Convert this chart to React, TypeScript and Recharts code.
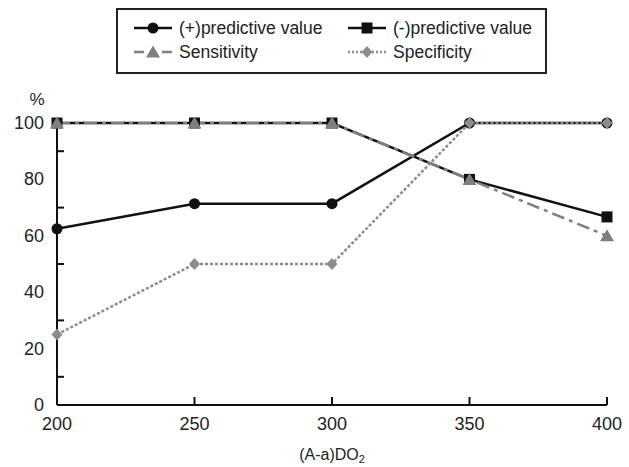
import React from "react";
import { LineChart, Line, XAxis, YAxis } from "recharts";

const xValues = [200, 250, 300, 350, 400];
const posPredictive = [62.5, 71.4, 71.4, 100, 100];
const negPredictive = [100, 100, 100, 80, 66.7];
const sensitivity = [100, 100, 100, 80, 60];
const specificity = [25, 50, 50, 100, 100];
const xTicks = [200, 250, 300, 350, 400];
const yTicks = [0, 10, 20, 30, 40, 50, 60, 70, 80, 90, 100];

const data = xValues.map((x, i) => ({
  x,
  pos: posPredictive[i],
  neg: negPredictive[i],
  sens: sensitivity[i],
  spec: specificity[i],
}));

const FONT = '"Liberation Sans", Arial, sans-serif';
const BLACK = "#111111";
const GRAY1 = "#7f7f7f";
const GRAY2 = "#8c8c8c";

const CircleDot = ({ cx, cy }: any) => <circle cx={cx} cy={cy} r={5.5} fill={BLACK} />;
const SquareDot = ({ cx, cy }: any) => <rect x={cx - 5.5} y={cy - 5.5} width={11} height={11} fill={BLACK} />;
const TriDot = ({ cx, cy, color }: any) => (
  <polygon points={`${cx},${cy - 6.5} ${cx + 7},${cy + 5.5} ${cx - 7},${cy + 5.5}`} fill={color || GRAY1} />
);
const DiamondDot = ({ cx, cy }: any) => (
  <polygon points={`${cx},${cy - 6} ${cx + 5.5},${cy} ${cx},${cy + 6} ${cx - 5.5},${cy}`} fill={GRAY2} />
);

const YTick = (props: any) => {
  const { x, y, payload } = props;
  const v = payload.value;
  if (v % 20 === 0) {
    return (
      <text x={x - 13} y={y} textAnchor="end" dominantBaseline="central" fontSize={18} fontFamily={FONT} fill="#222">
        {v}
      </text>
    );
  }
  return <line x1={x} x2={x + 7} y1={y} y2={y} stroke={BLACK} strokeWidth={2} />;
};

const XTick = (props: any) => {
  const { x, y, payload, index } = props;
  return (
    <g>
      {index > 0 && <line x1={x} x2={x} y1={y} y2={y - 8} stroke={BLACK} strokeWidth={2} />}
      <text x={x} y={y + 19} textAnchor="middle" dominantBaseline="central" fontSize={18} fontFamily={FONT} fill="#222">
        {payload.value}
      </text>
    </g>
  );
};

const XTitle = (props: any) => {
  const vb = props.viewBox;
  return (
    <text x={vb.x + vb.width / 2} y={vb.y + 49} textAnchor="middle" dominantBaseline="central" fontSize={16} fontFamily={FONT} fill="#222">
      (A-a)DO
      <tspan fontSize={11} dy={5}>2</tspan>
    </text>
  );
};

const YTitle = (props: any) => {
  const vb = props.viewBox;
  return (
    <text x={vb.x + vb.width - 20} y={vb.y - 24} textAnchor="middle" dominantBaseline="central" fontSize={17} fontFamily={FONT} fill="#222">
      %
    </text>
  );
};

const legendItems = [
  { label: "(+)predictive value", col: 0, row: 0, kind: "pos" },
  { label: "(-)predictive value", col: 1, row: 0, kind: "neg" },
  { label: "Sensitivity", col: 0, row: 1, kind: "sens" },
  { label: "Specificity", col: 1, row: 1, kind: "spec" },
];

const LegendBox = () => {
  const colX = [18, 232];
  const rowY = [20, 44];
  return (
    <svg width={431} height={66} style={{ position: "absolute", left: 116, top: 8 }}>
      <rect x={1} y={1} width={429} height={64} fill="#fff" stroke="#222" strokeWidth={2} />
      {legendItems.map((it) => {
        const x0 = colX[it.col];
        const y = rowY[it.row];
        const cx = x0 + 19;
        let sym: any = null;
        if (it.kind === "pos")
          sym = (
            <g>
              <line x1={x0} x2={x0 + 38} y1={y} y2={y} stroke={BLACK} strokeWidth={2.5} />
              <CircleDot cx={cx} cy={y} />
            </g>
          );
        if (it.kind === "neg")
          sym = (
            <g>
              <line x1={x0} x2={x0 + 38} y1={y} y2={y} stroke={BLACK} strokeWidth={2.5} />
              <SquareDot cx={cx} cy={y} />
            </g>
          );
        if (it.kind === "sens")
          sym = (
            <g>
              <line x1={x0} x2={x0 + 38} y1={y} y2={y} stroke={GRAY1} strokeWidth={2.5} strokeDasharray="10 18 10" />
              <TriDot cx={cx} cy={y} />
            </g>
          );
        if (it.kind === "spec")
          sym = (
            <g>
              <line x1={x0} x2={x0 + 38} y1={y} y2={y} stroke={GRAY2} strokeWidth={2.5} strokeDasharray="2 2" />
              <DiamondDot cx={cx} cy={y} />
            </g>
          );
        return (
          <g key={it.label}>
            {sym}
            <text x={x0 + 45} y={y} dominantBaseline="central" fontSize={17.5} fontFamily={FONT} fill="#222">
              {it.label}
            </text>
          </g>
        );
      })}
    </svg>
  );
};

export default function App() {
  return (
    <div style={{ position: "absolute", left: 0, top: 0, width: 629, height: 467, background: "#fff" }}>
      <LineChart width={629} height={467} data={data} margin={{ top: 123, right: 22, bottom: 0, left: 0 }}>
        <XAxis
          dataKey="x"
          type="number"
          domain={[200, 400]}
          ticks={xTicks}
          tick={<XTick />}
          tickLine={false}
          tickSize={0}
          tickMargin={0}
          height={62}
          axisLine={{ stroke: BLACK, strokeWidth: 2 }}
          label={<XTitle />}
        />
        <YAxis
          type="number"
          domain={[0, 100]}
          ticks={yTicks}
          interval={0}
          tick={<YTick />}
          tickLine={false}
          tickSize={0}
          tickMargin={0}
          width={57}
          axisLine={{ stroke: BLACK, strokeWidth: 2 }}
          label={<YTitle />}
        />
        <Line dataKey="pos" stroke={BLACK} strokeWidth={2.5} isAnimationActive={false}
          dot={(p: any) => <CircleDot key={`p${p.index}`} cx={p.cx} cy={p.cy} />} />
        <Line dataKey="neg" stroke={BLACK} strokeWidth={2.5} isAnimationActive={false}
          dot={(p: any) => <SquareDot key={`n${p.index}`} cx={p.cx} cy={p.cy} />} />
        <Line dataKey="sens" stroke={GRAY1} strokeWidth={2.5} strokeDasharray="13 5 4 5" isAnimationActive={false}
          dot={(p: any) => <TriDot key={`s${p.index}`} cx={p.cx} cy={p.cy} />} />
        <Line dataKey="spec" stroke={GRAY2} strokeWidth={2.5} strokeDasharray="3 2" isAnimationActive={false}
          dot={(p: any) => <DiamondDot key={`d${p.index}`} cx={p.cx} cy={p.cy} />} />
      </LineChart>
      <LegendBox />
    </div>
  );
}
